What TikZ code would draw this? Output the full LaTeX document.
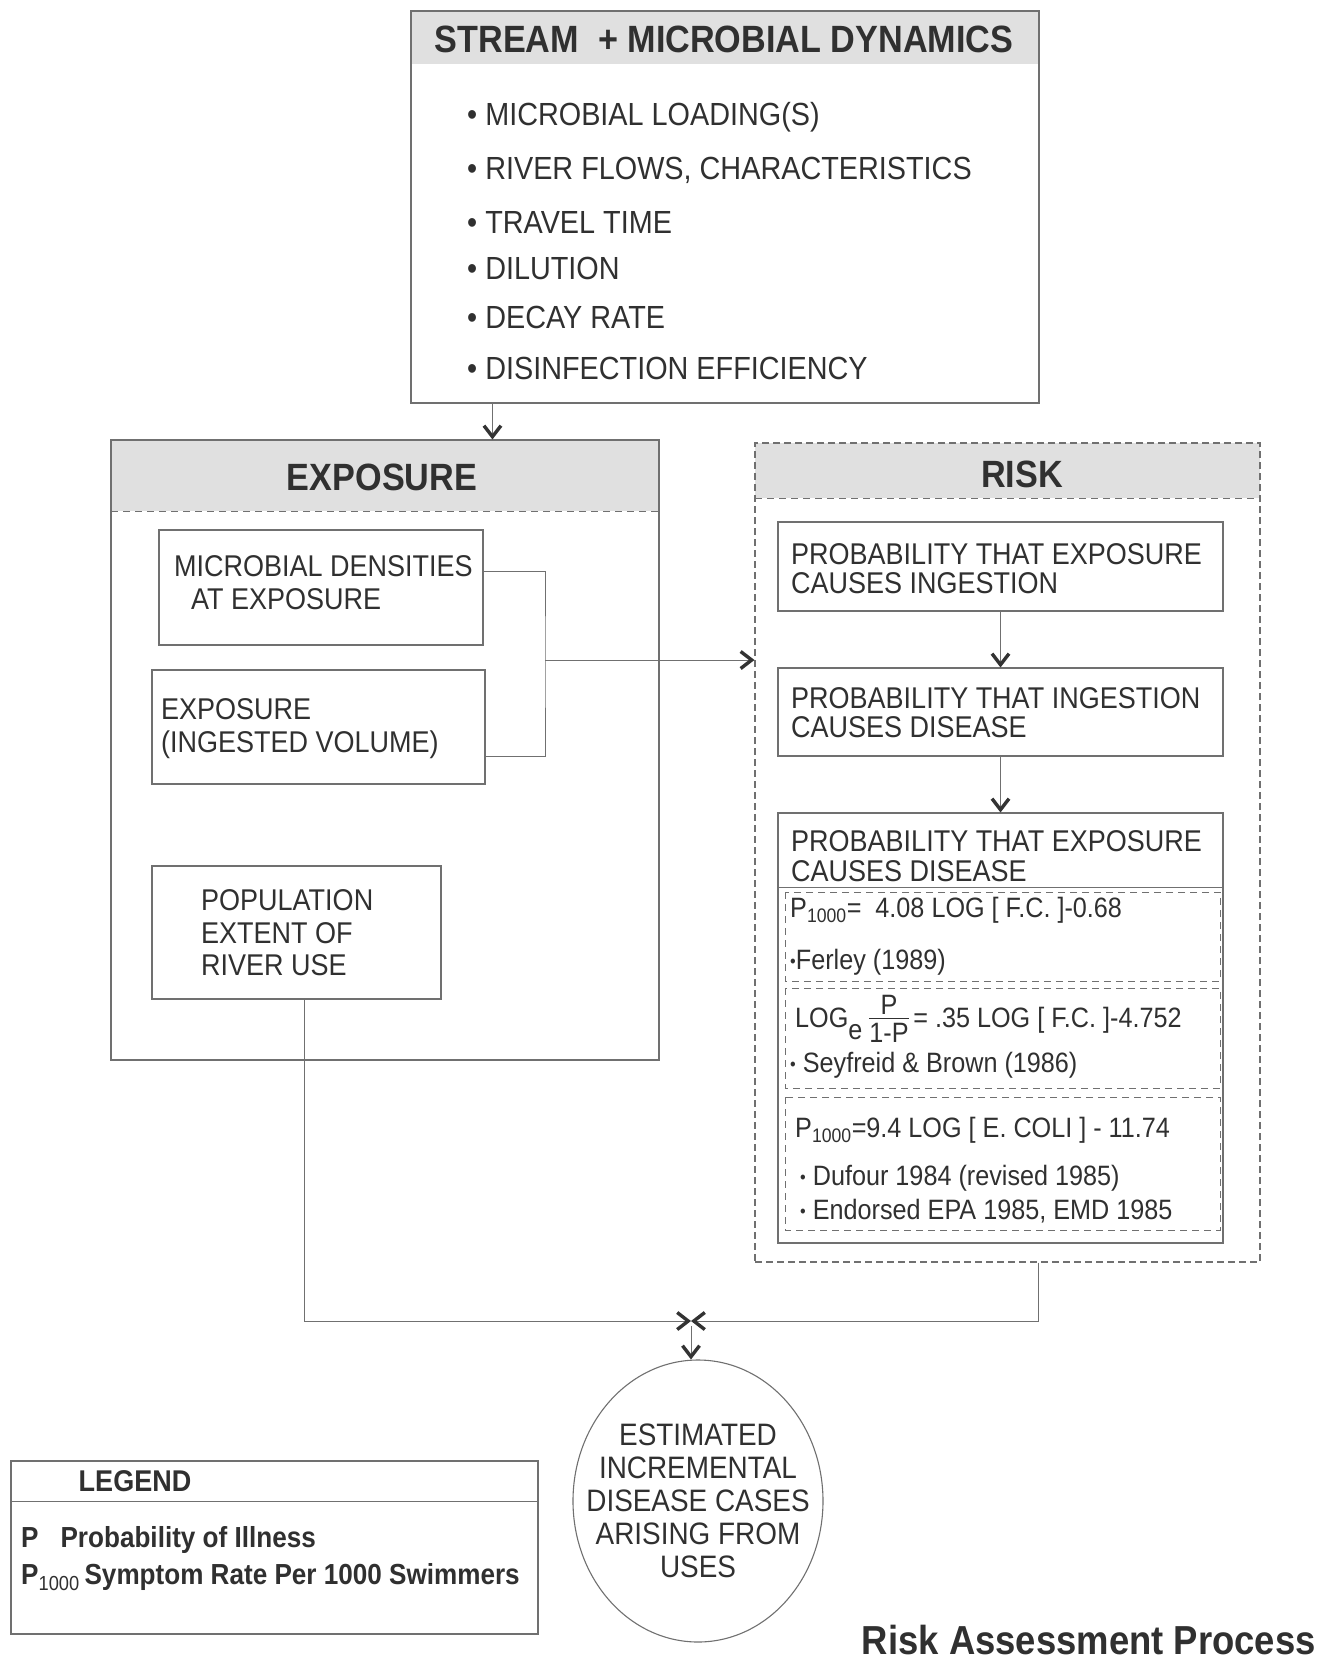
\documentclass[tikz,border=0pt]{standalone}
\usepackage{amsmath}
\usepackage{fontspec}
\setmainfont{Liberation Sans}[FakeStretch=0.9]
\usetikzlibrary{arrows.meta,shapes.geometric,positioning}
\definecolor{linegray}{HTML}{707070}
\definecolor{inkgray}{HTML}{303030}
\definecolor{bandgray}{HTML}{E0E0E0}
\definecolor{tipgray}{HTML}{333333}
\newcommand\setsize[2]{\fontsize{#1}{#2}\selectfont}
\newcommand\dotb{{\setsize{18}{18}\raisebox{2pt}{•}}}
\newcommand\ratio[2]{\raisebox{-15pt}{\setsize{28}{28}\begin{tabular}[b]{@{}c@{}}#1\\[-5.5pt]\hline\rule{0pt}{24pt}#2\end{tabular}}}

\begin{document}
\begin{tikzpicture}[x=1pt, y=-1pt,
  every node/.style={text=inkgray, inner sep=0pt},
  box/.style={draw=linegray, line width=1.1pt},
  conn/.style={draw=linegray, line width=1pt},
  tip/.style={-{Straight Barb[length=11pt,width=17pt,line width=3.4pt,color=tipgray]}},
  head/.style={font=\bfseries\setsize{38}{40}},
  txt/.style={anchor=west, align=left, font=\setsize{30}{33}},
  frm/.style={anchor=west, align=left, font=\setsize{28}{30}},
  divide/.style={draw=linegray, line width=1pt, dash pattern=on 7pt off 5pt}]
\useasboundingbox[fill=white] (0,0) rectangle (1333,1663);

% header bands
\fill[bandgray] (411,11) rectangle (1039,64);
\fill[bandgray] (111,440) rectangle (659,511);
\fill[bandgray] (755,443) rectangle (1260,498);

% stream + microbial dynamics
\node[box, minimum width=628pt, minimum height=392pt] (stream) at (725,207) {};
\node[head] (streamT) at (724,39) {STREAM\ \ + MICROBIAL DYNAMICS};
\foreach \y/\t [count=\i] in {117/{MICROBIAL LOADING(S)}, 170/{RIVER FLOWS, CHARACTERISTICS},
    222/{TRAVEL TIME}, 268/{DILUTION}, 317/{DECAY RATE}, 368/{DISINFECTION EFFICIENCY}}
  \node[anchor=west, font=\setsize{32}{34}] (item\i) at (467,\y) {• \t};

% exposure
\node[box, minimum width=548pt, minimum height=620pt] (exposure) at (385,750) {};
\draw[divide] (111,511) -- (659,511);
\node[head] (exposureT) at (382,477) {EXPOSURE};
\node[box, minimum width=324pt, minimum height=115pt] (dens) at (321,587.5) {};
\node[txt] (densT) at (174,583) {MICROBIAL DENSITIES\\\hspace{17pt}AT EXPOSURE};
\node[box, minimum width=333pt, minimum height=114pt] (ingest) at (318.5,727) {};
\node[txt] (ingestT) at (161,728.5) {EXPOSURE\\(INGESTED VOLUME)};
\node[box, minimum width=289pt, minimum height=133pt] (popul) at (296.5,932.5) {};
\node[txt, font=\setsize{30}{32.5}] (populT) at (201,933) {POPULATION\\EXTENT OF\\RIVER USE};

% risk
\node[box, dash pattern=on 7pt off 4pt, minimum width=505pt, minimum height=819pt] (risk) at (1007.5,852.5) {};
\draw[divide] (755,498) -- (1260,498);
\node[head] (riskT) at (1022,474) {RISK};
\node[box, minimum width=445pt, minimum height=89pt] (pinges) at (1000.5,566.5) {};
\node[txt, font=\setsize{30}{29}] (pingesT) at (791,568.5) {PROBABILITY THAT EXPOSURE\\CAUSES INGESTION};
\node[box, minimum width=445pt, minimum height=88pt] (pdis) at (1000.5,712) {};
\node[txt, font=\setsize{30}{29}] (pdisT) at (791,712.5) {PROBABILITY THAT INGESTION\\CAUSES DISEASE};
\node[box, minimum width=445pt, minimum height=430pt] (pexp) at (1000.5,1028) {};
\node[txt, font=\setsize{30}{30}] (pexpT) at (791,856) {PROBABILITY THAT EXPOSURE\\CAUSES DISEASE};
\draw[conn] (778,887) -- (1223,887);
\draw[divide] (785,892) rectangle (1220,981);
\draw[divide] (785,988) rectangle (1220,1088);
\draw[divide] (785,1097) rectangle (1220,1230);
\node[frm] (ferleyF) at (790,910) {P\textsubscript{1000}=\ \ 4.08 LOG [ F.C. ]-0.68};
\node[frm] (ferley) at (790,962) {\dotb Ferley (1989)};
\node[frm, anchor=base west] (seyfreidF) at (795,1027) {LOG\raisebox{-12pt}{e}\ \ratio{P}{1-P}\,= .35 LOG [ F.C. ]-4.752};
\node[frm] (seyfreid) at (790,1065) {\dotb\ Seyfreid \& Brown (1986)};
\node[frm] (dufourF) at (795,1130) {P\textsubscript{1000}=9.4 LOG [ E. COLI ] - 11.74};
\node[frm] (dufour) at (800,1178) {\dotb\ Dufour 1984 (revised 1985)};
\node[frm] (epa) at (800,1211) {\dotb\ Endorsed EPA 1985, EMD 1985};

% outcome
\node[ellipse, draw=linegray, line width=1.1pt, minimum width=250pt, minimum height=282pt] (cases) at (698,1501) {};
\node[align=center, font=\setsize{31}{33}] (casesT) at (cases.center)
  {ESTIMATED\\INCREMENTAL\\DISEASE CASES\\ARISING FROM\\USES};

% connectors
\coordinate (sIn) at ([xshift=82pt]stream.south west);
\draw[conn, tip] (sIn) -- (sIn |- exposure.north);
\coordinate (join) at (545,660);
\draw[conn] ([yshift=16pt]dens.east) -| (join) |- ([yshift=-29pt]ingest.east);
\draw[conn, tip] (join) -- (join -| risk.west);
\draw[conn, tip] (pinges.south) -- (pdis.north);
\draw[conn, tip] (pdis.south) -- (pexp.north);
\coordinate (meet) at (691,1321);
\draw[conn, tip] ([xshift=8pt]popul.south) |- (meet);
\coordinate (rOut) at ([xshift=31pt]risk.south);
\draw[conn, tip] (rOut) |- (meet);
\coordinate (meetB) at ([yshift=-5pt]meet);
\draw[conn, tip] (meetB) -- (meetB |- cases.north);

% legend
\node[box, minimum width=527pt, minimum height=173pt] (legend) at (274.5,1547.5) {};
\draw[conn] (11,1501) -- (538,1501);
\node[font=\bfseries\setsize{30}{32}] (legendT) at (135,1481) {LEGEND};
\node[anchor=west, font=\bfseries\setsize{29}{31}] (legP) at (21,1540) {P\hspace{22pt}Probability of Illness};
\node[anchor=west, font=\bfseries\setsize{29}{31}] (legK) at (21,1577)
  {P\textsubscript{\mdseries 1000}\,Symptom Rate Per 1000 Swimmers};

\node[anchor=east, font=\bfseries\setsize{40.5}{42}] (title) at (1316,1640) {Risk Assessment Process};
\end{tikzpicture}
\end{document}
